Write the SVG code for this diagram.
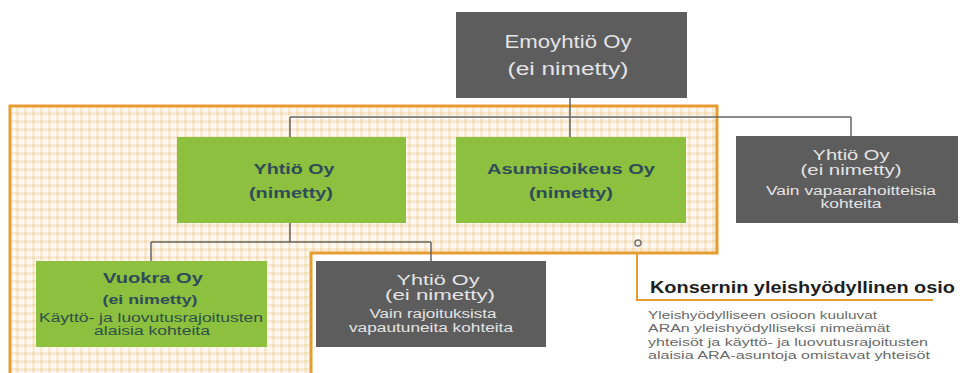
<svg xmlns="http://www.w3.org/2000/svg" width="960" height="373" viewBox="0 0 960 373">
<defs>
<pattern id="chk" width="8" height="8" patternUnits="userSpaceOnUse">
<rect width="8" height="8" fill="#FDF9F2"/>
<rect x="0" y="0" width="3" height="8" fill="#F8EAD5"/>
<rect x="0" y="0" width="8" height="3" fill="#F8EAD5"/>
<rect x="0" y="0" width="3" height="3" fill="#F3DDBB"/>
</pattern>
<style>
.gray{fill:#5E5D5E}
.green{fill:#8DC03F}
text{font-family:"Liberation Sans",Arial,sans-serif}
.gt{fill:#E4E4E4;text-anchor:middle}
.lt{fill:#2F4C58;text-anchor:middle;font-weight:bold}
.ln{fill:#2F5048;text-anchor:middle}
.conn{fill:none;stroke:#666;stroke-width:1.5}
.org{fill:none;stroke:#E59C30;stroke-width:3}
</style>
</defs>
<rect width="960" height="373" fill="#fff"/>
<g id="region">
<path d="M10,106 H717 V253 H311 V375 H10 Z" fill="url(#chk)"/>
<path class="org" d="M10,375 V106 H717 V253 H311 V375"/>
</g>
<g id="connectors">
<path class="conn" d="M570,98 V117 M290,117 H851 M290,117 V137 M570,117 V137 M851,117 V136"/>
<path class="conn" d="M290,223 V242 M151,242 H431 M151,242 V261 M431,242 V261"/>
<circle cx="638" cy="243" r="3" fill="none" stroke="#777" stroke-width="1.5"/>
<path d="M637,253 V300 H933" fill="none" stroke="#E59C30" stroke-width="2"/>
</g>
<g id="emo">
<rect class="gray" x="456" y="12" width="231" height="86"/>
<text class="gt" x="568" y="48" font-size="18" textLength="127" lengthAdjust="spacingAndGlyphs">Emoyhtiö Oy</text>
<text class="gt" x="568" y="75" font-size="18" textLength="121" lengthAdjust="spacingAndGlyphs">(ei nimetty)</text>
</g>
<g id="yhtio-nimetty">
<rect class="green" x="177" y="137" width="229" height="86"/>
<text class="lt" x="294" y="174" font-size="14" textLength="81" lengthAdjust="spacingAndGlyphs">Yhtiö Oy</text>
<text class="lt" x="291" y="198" font-size="14" textLength="84" lengthAdjust="spacingAndGlyphs">(nimetty)</text>
</g>
<g id="asumisoikeus">
<rect class="green" x="456" y="137" width="230" height="86"/>
<text class="lt" x="571" y="174" font-size="14" textLength="168" lengthAdjust="spacingAndGlyphs">Asumisoikeus Oy</text>
<text class="lt" x="571" y="198" font-size="14" textLength="84" lengthAdjust="spacingAndGlyphs">(nimetty)</text>
</g>
<g id="yhtio-vapaa">
<rect class="gray" x="736" y="136" width="222" height="87"/>
<text class="gt" x="851" y="160" font-size="14" textLength="77" lengthAdjust="spacingAndGlyphs">Yhtiö Oy</text>
<text class="gt" x="851" y="175" font-size="14" textLength="101" lengthAdjust="spacingAndGlyphs">(ei nimetty)</text>
<text class="gt" x="851" y="195" font-size="12" textLength="170" lengthAdjust="spacingAndGlyphs">Vain vapaarahoitteisia</text>
<text class="gt" x="851" y="208" font-size="12" textLength="61" lengthAdjust="spacingAndGlyphs">kohteita</text>
</g>
<g id="vuokra">
<rect class="green" x="36" y="261" width="231" height="86"/>
<text class="lt" x="153" y="283" font-size="14" textLength="100" lengthAdjust="spacingAndGlyphs">Vuokra Oy</text>
<text class="lt" x="150" y="304" font-size="13" textLength="95" lengthAdjust="spacingAndGlyphs">(ei nimetty)</text>
<text class="ln" x="151" y="322" font-size="12" textLength="224" lengthAdjust="spacingAndGlyphs">Käyttö- ja luovutusrajoitusten</text>
<text class="ln" x="152" y="335" font-size="12" textLength="116" lengthAdjust="spacingAndGlyphs">alaisia kohteita</text>
</g>
<g id="yhtio-vapautuneet">
<rect class="gray" x="316" y="261" width="230" height="86"/>
<text class="gt" x="438" y="285" font-size="14" textLength="83" lengthAdjust="spacingAndGlyphs">Yhtiö Oy</text>
<text class="gt" x="440" y="300" font-size="14" textLength="110" lengthAdjust="spacingAndGlyphs">(ei nimetty)</text>
<text class="gt" x="433" y="318" font-size="12" textLength="127" lengthAdjust="spacingAndGlyphs">Vain rajoituksista</text>
<text class="gt" x="431" y="332" font-size="12" textLength="164" lengthAdjust="spacingAndGlyphs">vapautuneita kohteita</text>
</g>
<g id="legend">
<text x="650" y="293" font-size="16" font-weight="bold" fill="#1E1E1E" textLength="305" lengthAdjust="spacingAndGlyphs">Konsernin yleishyödyllinen osio</text>
<text font-size="11.5" fill="#6A6A6A" x="648" y="319" textLength="229" lengthAdjust="spacingAndGlyphs">Yleishyödylliseen osioon kuuluvat</text>
<text font-size="11.5" fill="#6A6A6A" x="648" y="332" textLength="242" lengthAdjust="spacingAndGlyphs">ARAn yleishyödylliseksi nimeämät</text>
<text font-size="11.5" fill="#6A6A6A" x="648" y="346" textLength="280" lengthAdjust="spacingAndGlyphs">yhteisöt ja käyttö- ja luovutusrajoitusten</text>
<text font-size="11.5" fill="#6A6A6A" x="648" y="359" textLength="282" lengthAdjust="spacingAndGlyphs">alaisia ARA-asuntoja omistavat yhteisöt</text>
</g>
</svg>
